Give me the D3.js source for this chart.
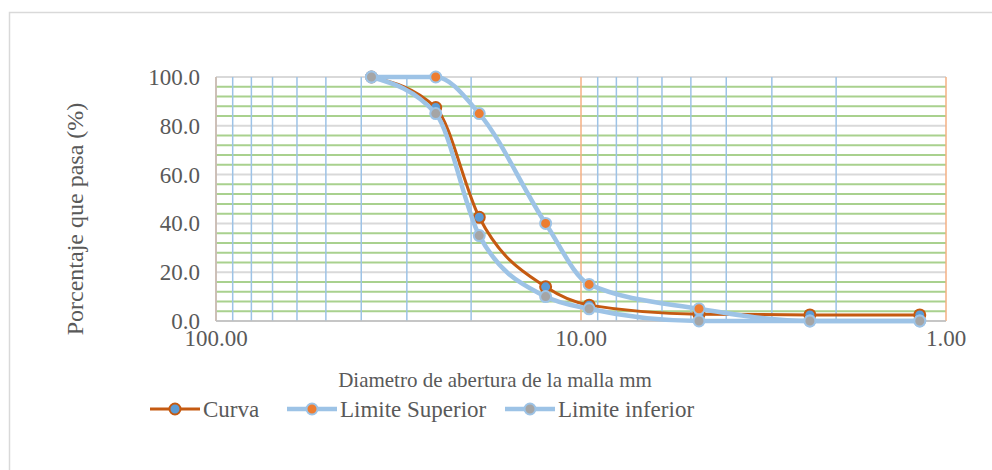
<!DOCTYPE html>
<html>
  <style>
	body { margin: 0; background: white; }
	text { font-family: "Liberation Serif", "Times New Roman", serif; fill: #595959; }
  </style>
  <head>
	<title>Curva granulometrica</title>
	<script src="https://d3js.org/d3.v7.min.js"></script>
  </head>
  <body>
	<svg id="chart" width="992" height="470"></svg>
    <script type="text/javascript">
		// sieve openings (mm) and percent passing
		var sieves = [37.5, 25, 19, 12.5, 9.5, 4.75, 2.36, 1.18];
		var curva = [100, 87.5, 42.5, 14, 6.5, 2.8, 2.5, 2.5];
		var limiteSuperior = [100, 100, 85, 40, 15, 5, 0, 0];
		var limiteInferior = [100, 85, 35, 10, 5, 0, 0, 0];
		var xTicks = [100, 10, 1];
		var yTicks = [0, 20, 40, 60, 80, 100];
		var seriesNames = ["Curva", "Limite Superior", "Limite inferior"];

		var margin = {top: 77, left: 216, right: 46, bottom: 149},
			width = 992 - margin.left - margin.right,
			height = 470 - margin.top - margin.bottom;

		var svg = d3.select("#chart");

		// chart frame (only top and left edges show)
		svg.append("rect")
			.attr("x", 9.5).attr("y", 12.5)
			.attr("width", 1000).attr("height", 500)
			.attr("fill", "none")
			.attr("stroke", "#D9D9D9")
			.attr("stroke-width", 1.5);

		var xScale = d3.scaleLog().domain([100, 1]).range([0, width]);
		var yScale = d3.scaleLinear().domain([0, 100]).range([height, 0]);

		var g = svg.append("g")
			.attr("transform", "translate(" + margin.left + "," + margin.top + ")");

		// horizontal grid
		var yMinor = d3.range(0, 101, 4).filter(function(v) { return v % 20 !== 0; });
		g.selectAll(".hminor").data(yMinor).enter().append("line")
			.attr("x1", 0).attr("x2", width)
			.attr("y1", function(d) { return yScale(d); })
			.attr("y2", function(d) { return yScale(d); })
			.attr("stroke", "#A9D18E").attr("stroke-width", 2);
		g.selectAll(".hmajor").data(yTicks).enter().append("line")
			.attr("x1", 0).attr("x2", width)
			.attr("y1", function(d) { return yScale(d); })
			.attr("y2", function(d) { return yScale(d); })
			.attr("stroke", "#D9D9D9").attr("stroke-width", 2);

		// vertical grid
		var xMinor = [];
		[10, 1].forEach(function(base) {
			for (var k = 2; k <= 9; k++) xMinor.push(k * base);
		});
		g.selectAll(".vminor").data(xMinor).enter().append("line")
			.attr("x1", function(d) { return xScale(d); })
			.attr("x2", function(d) { return xScale(d); })
			.attr("y1", 0).attr("y2", height)
			.attr("stroke", "#9DC3E6").attr("stroke-width", 1.5);
		g.selectAll(".vmajor").data(xTicks).enter().append("line")
			.attr("x1", function(d) { return xScale(d); })
			.attr("x2", function(d) { return xScale(d); })
			.attr("y1", 0).attr("y2", height)
			.attr("stroke", "#F4B183").attr("stroke-width", 1.5);

		// axis lines
		g.append("line").attr("x1", 0).attr("x2", 0).attr("y1", 0).attr("y2", height)
			.attr("stroke", "#BFBFBF").attr("stroke-width", 1.5);
		g.append("line").attr("x1", 0).attr("x2", width).attr("y1", height).attr("y2", height)
			.attr("stroke", "#BFBFBF").attr("stroke-width", 1.5);

		// tick labels
		g.selectAll(".ylab").data(yTicks).enter().append("text")
			.attr("x", -16)
			.attr("y", function(d) { return yScale(d); })
			.attr("dy", "0.35em")
			.attr("text-anchor", "end")
			.attr("font-size", 23)
			.text(function(d) { return d.toFixed(1); });
		g.selectAll(".xlab").data(xTicks).enter().append("text")
			.attr("x", function(d) { return xScale(d); })
			.attr("y", height + 17)
			.attr("dy", "0.35em")
			.attr("text-anchor", "middle")
			.attr("font-size", 23)
			.text(function(d) { return d.toFixed(2); });

		// axis titles
		svg.append("text")
			.attr("x", 495)
			.attr("y", 380)
			.attr("dy", "0.35em")
			.attr("text-anchor", "middle")
			.attr("font-size", 21)
			.text("Diametro de abertura de la malla mm");
		svg.append("text")
			.attr("transform", "translate(75," + (margin.top + height / 2 + 20) + ") rotate(-90)")
			.attr("dy", "0.35em")
			.attr("text-anchor", "middle")
			.attr("font-size", 24)
			.text("Porcentaje que pasa (%)");

		var series = [
			{name: seriesNames[0], values: curva, line: "#C55A11", lineWidth: 3, fill: "#5B9BD5", border: "#C55A11"},
			{name: seriesNames[1], values: limiteSuperior, line: "#9DC3E6", lineWidth: 4.5, fill: "#ED7D31", border: "#9DC3E6"},
			{name: seriesNames[2], values: limiteInferior, line: "#9DC3E6", lineWidth: 4.5, fill: "#A5A5A5", border: "#9DC3E6"}
		];

		var line = d3.line()
			.x(function(d) { return xScale(d[0]); })
			.y(function(d) { return yScale(d[1]); })
			.curve(d3.curveMonotoneX);

		series.forEach(function(s) {
			var pts = sieves.map(function(v, i) { return [v, s.values[i]]; });
			var sg = g.append("g");
			sg.append("path")
				.attr("d", line(pts))
				.attr("fill", "none")
				.attr("stroke", s.line)
				.attr("stroke-width", s.lineWidth)
				.attr("stroke-linejoin", "round");
			sg.selectAll("circle").data(pts).enter().append("circle")
				.attr("cx", function(d) { return xScale(d[0]); })
				.attr("cy", function(d) { return yScale(d[1]); })
				.attr("r", 5.5)
				.attr("fill", s.fill)
				.attr("stroke", s.border)
				.attr("stroke-width", 2);
		});

		// legend
		var legendX = [150, 287, 505];
		var legend = svg.selectAll(".legend").data(series).enter().append("g")
			.attr("transform", function(d, i) { return "translate(" + legendX[i] + ",409)"; });
		legend.append("line")
			.attr("x1", 0).attr("x2", 50).attr("y1", 0).attr("y2", 0)
			.attr("stroke", function(d) { return d.line; })
			.attr("stroke-width", function(d) { return d.lineWidth; });
		legend.append("circle")
			.attr("cx", 25).attr("cy", 0).attr("r", 5.5)
			.attr("fill", function(d) { return d.fill; })
			.attr("stroke", function(d) { return d.border; })
			.attr("stroke-width", 2);
		legend.append("text")
			.attr("x", 53).attr("y", 0).attr("dy", "0.35em")
			.attr("font-size", 23)
			.text(function(d) { return d.name; });
    </script>
  </body>
</html>
